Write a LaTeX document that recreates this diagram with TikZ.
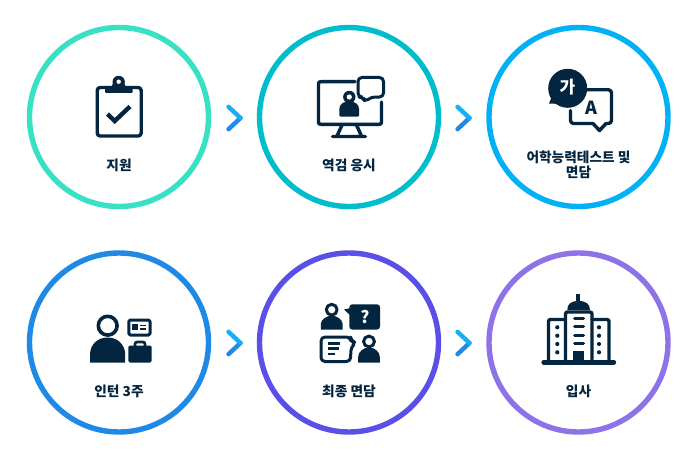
\documentclass[tikz,border=0pt]{standalone}
\usepackage{fontspec}
\setmainfont{Noto Sans CJK KR}
\definecolor{ink}{HTML}{03253F}
\definecolor{ringa}{HTML}{38E0C6}
\definecolor{ringb}{HTML}{00BDCB}
\definecolor{ringc}{HTML}{00B1F5}
\definecolor{ringd}{HTML}{1F8AE6}
\definecolor{ringe}{HTML}{5A4FE6}
\definecolor{ringf}{HTML}{8E72E8}
\definecolor{chevtop}{HTML}{14B0F2}
\definecolor{chevlow}{HTML}{2188E8}
\tikzset{
  ringnode/.style={circle,draw=#1,line width=5.4pt,minimum size=179pt,inner sep=0pt},
  steplabel/.style={text=ink,font=\bfseries\fontsize{13.7}{15}\selectfont,align=center,inner sep=0pt},
  inkline/.style={draw=ink,line width=#1,line cap=round,line join=round},
  glyph/.style={text=white,inner sep=0pt,font=\bfseries\fontsize{17}{17}\selectfont}
}
\newcommand{\chevron}[2]{%
  \draw[chevlow,line width=4.4pt,line cap=round] (#1,#2) ++(6,0) -- ++(-12,11.2);
  \draw[chevtop,line width=4.4pt,line cap=round] (#1,#2) ++(-6,-11.2) -- ++(12,11.2);
}
\newcommand{\bust}[5]{%
  \draw[inkline=3pt] (#1,#2) circle (#3);
  \fill[ink] ({#1-#4},#5) -- ({#1-#4},{#5-6}) .. controls ({#1-#4},{#2+#3+5}) and ({#1-#4*.5},{#2+#3+.5}) .. (#1,{#2+#3+.5}) .. controls ({#1+#4*.5},{#2+#3+.5}) and ({#1+#4},{#2+#3+5}) .. ({#1+#4},{#5-6}) -- ({#1+#4},#5) -- cycle;
}
\begin{document}
\begin{tikzpicture}[x=1pt,y=-1pt]
\useasboundingbox (0,0) rectangle (691,452);
\fill[white] (0,0) rectangle (691,452);
\node[ringnode=ringa] (one) at (119,117) {};
\node[ringnode=ringb] (two) at (349,117) {};
\node[ringnode=ringc] (three) at (578.5,117) {};
\node[ringnode=ringd] (four) at (119,342.5) {};
\node[ringnode=ringe] (five) at (349,342.5) {};
\node[ringnode=ringf] (six) at (578.5,342.5) {};
\node[steplabel] (l1) at (119,165.8) {지원};
\node[steplabel] (l2) at (349,165.8) {역검 응시};
\node[steplabel] (l3) at (578.5,165.2) {어학능력테스트 및\\면담};
\node[steplabel] (l4) at (119,391.3) {인턴 3주};
\node[steplabel] (l5) at (349,391.3) {최종 면담};
\node[steplabel] (l6) at (578.5,391.3) {입사};
% chevrons
\chevron{234.5}{118}
\chevron{463.5}{118}
\chevron{234.5}{343}
\chevron{463.5}{343}
% clipboard
\draw[inkline=3.4pt,rounded corners=3pt] (97.2,87.5) rectangle (141.2,136);
\fill[ink,rounded corners=1pt] (105,93) -- (105,87) -- (111.5,87) -- (113,83) -- (124,83) -- (126,87) -- (132.7,87) -- (132.7,93) -- cycle;
\fill[ink] (118.7,82) circle (6.2);
\fill[white] (118.7,81.7) circle (2.2);
\draw[inkline=4.4pt,line cap=butt,line join=miter] (107.5,114) -- (114.7,121) -- (130,106.5);
% monitor
\draw[inkline=3.4pt] (355,81.7) -- (321,81.7) .. controls (319,81.7) and (318.5,82) .. (318.5,84) -- (318.5,122) .. controls (318.5,124) and (319,124.3) .. (321,124.3) -- (379,124.3) .. controls (381,124.3) and (381.5,124) .. (381.5,122) -- (381.5,102);
\draw[inkline=3.4pt] (342,125) -- (337,136) (356.5,125) -- (361.5,136) (332.5,136.5) -- (365.5,136.5);
\fill[ink] (349.3,97) circle (6.2);
\fill[white] (349.3,97) circle (2.6);
\fill[ink,rounded corners=1pt] (339.3,116.5) -- (339.3,110) .. controls (339.3,104) and (344,101.5) .. (349.3,101.5) .. controls (354.5,101.5) and (359,104) .. (359,110) -- (359,116.5) -- cycle;
\draw[inkline=3pt,fill=white,rounded corners=4pt] (358,77.5) -- (383.5,77.5) -- (383.5,97) -- (371,97) -- (365,102) -- (363,97) -- (358,97) -- cycle;
% translation
\fill[ink] (567.7,88.3) circle (19.5);
\fill[ink] (552,96) -- (549,103.5) -- (560,104) -- cycle;
\node[glyph] (ga) at (567.5,87.5) {가};
\draw[inkline=3.4pt,rounded corners=3pt] (587,89.8) -- (611.5,89.8) -- (611.5,123.5) -- (606,123.5);
\draw[inkline=3.4pt] (606,123.5) -- (599.5,130.5) -- (593,123.5);
\draw[inkline=3.4pt,rounded corners=3pt] (593,123.5) -- (570.5,123.5) -- (570.5,110.5);
\node[glyph,text=ink] (aa) at (591,107.5) {\fontsize{18}{18}\selectfont A};
% intern
\draw[inkline=3.6pt] (107.7,325.7) circle (9.4);
\fill[ink] (90,362.5) -- (90,355) .. controls (90,344) and (98,337.5) .. (107.7,337.5) .. controls (117,337.5) and (125.2,344) .. (125.2,355) -- (125.2,362.5) -- cycle;
\draw[inkline=3pt,rounded corners=1.5pt] (128.8,320) rectangle (150,335);
\fill[ink] (132,324.3) rectangle (138,330.3);
\draw[draw=ink,line width=1.6pt] (140,325.3) -- (146,325.3) (140,329) -- (146,329);
\fill[ink,rounded corners=2pt] (128.3,345.5) rectangle (151.7,362.5);
\draw[draw=ink,line width=2.6pt,rounded corners=2pt] (135,346) -- (135,342) -- (145,342) -- (145,346);
% interview
\bust{331.7}{309.7}{5.4}{10.8}{329.5}
\fill[ink,rounded corners=3pt] (349.3,304.3) rectangle (380,329.5);
\fill[ink] (344,309.5) -- (351,308) -- (351,316) -- cycle;
\node[glyph] (qm) at (365,316.8) {?};
\draw[inkline=3pt,rounded corners=4pt] (321,337) -- (350.5,337) -- (351,341) -- (356,342.7) -- (351,347) -- (350.5,361.5) -- (321,361.5) -- cycle;
\draw[draw=ink,line width=2.4pt] (328,343.5) -- (340,343.5) (328,348.5) -- (338.5,348.5) (328,354) -- (335,354);
\bust{369}{341.5}{5.4}{10.8}{362.7}
% building
\draw[draw=ink,line width=3.6pt] (578,293.5) -- (578,303);
\fill[ink] (567.3,310) .. controls (567.3,304) and (571,301) .. (578.6,301) .. controls (586,301) and (590,304) .. (590,310) -- cycle;
\draw[inkline=3.4pt,rounded corners=2pt] (565.5,361) -- (565.5,312) -- (592,312) -- (592,361);
\draw[inkline=3.4pt,rounded corners=2pt] (565,319.5) -- (548.5,319.5) -- (548.5,361);
\draw[inkline=3.4pt,rounded corners=2pt] (592,319.5) -- (609,319.5) -- (609,361);
\draw[draw=ink,line width=5.4pt,line cap=round] (544,362.2) -- (613.5,362.2);
\draw[draw=ink,line width=3pt,line cap=round] (574.5,318.5) -- (583.5,318.5) (574.5,326.7) -- (583.5,326.7) (574.5,335) -- (583.5,335) (574.5,343.3) -- (583.5,343.3);
\fill[ink] (572.8,350.5) rectangle (584.3,361);
\foreach \yy in {327.3,335.7,344,352.3}{
  \fill[ink] (557.3,\yy) circle (2.1);
  \fill[ink] (599,\yy) circle (2.1);
}
\end{tikzpicture}
\end{document}
